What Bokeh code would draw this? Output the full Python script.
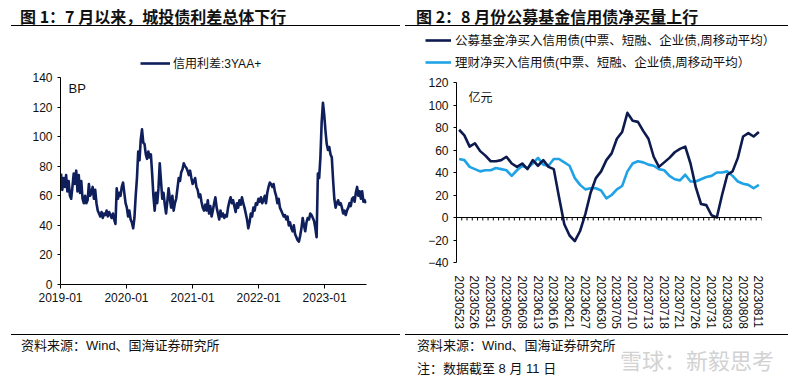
import numpy as np
import pandas as pd
from bokeh.plotting import figure
from bokeh.models import (Range1d, FixedTicker, Legend, LegendItem, Label, Span, Div,
                          DatetimeTickFormatter)
from bokeh.layouts import row, column
from bokeh.embed import file_html
from bokeh.resources import INLINE

# ---------------- data: chart 1 (weekly readings of the daily 3Y AA+ spread, bp) ----------------
spread_start = "2019-01-04"
spread_3yaa = [
    75, 64, 72, 66, 74, 63, 70, 60,
    58, 66, 75, 68, 77, 63, 74, 62, 70, 58, 55, 60,
    55, 57, 68, 60, 62, 66, 58, 64, 55, 50, 48, 46, 49,
    45, 48, 47, 50, 46, 49, 47, 45, 48, 44, 41,
    65, 58, 62, 60, 66, 69, 62, 55, 52, 46, 50, 44, 42, 38, 45,
    60, 72, 90, 84, 98, 105, 96,
    95, 88, 85, 90, 86, 88, 75, 60, 50, 62, 55, 65, 82, 70, 58, 62, 54,
    48, 56, 65, 58, 52, 60, 50, 55, 58, 65, 72, 70, 76, 78, 82, 80, 79, 77,
    74, 77, 72, 68, 70, 72, 66, 64, 59, 61, 56, 52, 50, 54, 50, 57, 48, 53, 46,
    50, 55, 59, 52, 48, 44, 50, 46, 48, 45, 47, 46, 52, 56, 59, 55, 57, 53, 49, 55, 52, 57, 54, 59, 55, 52,
    48, 44, 38, 42, 48, 46, 52, 50, 55, 54, 58, 56, 59, 55,
    57, 60, 55, 62, 66, 69, 68, 66, 68, 63, 60, 55, 58, 52, 50, 48, 46,
    47, 44, 46, 40, 42, 38, 36, 40, 34, 32, 30, 29, 33,
    38, 45, 40, 36, 42, 45, 44, 48, 47, 45, 43, 38, 32,
    75, 72, 86, 110, 123, 115, 104, 95, 91, 93, 88, 86, 71,
    58, 52, 55, 57, 54, 55, 52, 48, 50, 47, 50, 52, 55, 53, 58, 59, 56, 62, 66, 60, 63, 58, 63, 56, 57, 55,
]
spread_dates = pd.date_range(spread_start, periods=len(spread_3yaa), freq="7D")
year_ticks = ["2019-01", "2020-01", "2021-01", "2022-01", "2023-01"]
spread_yticks = [0, 20, 40, 60, 80, 100, 120, 140]

# ---------------- data: chart 2 (net purchase of credit bonds, 100m yuan, weekly MA) ----------------
trade_dates = [
    "20230523", "20230524", "20230525", "20230526", "20230529", "20230530", "20230531",
    "20230601", "20230602", "20230605", "20230606", "20230607", "20230608", "20230609",
    "20230612", "20230613", "20230614", "20230615", "20230616", "20230619", "20230620",
    "20230621", "20230625", "20230626", "20230627", "20230628", "20230629", "20230630",
    "20230703", "20230704", "20230705", "20230706", "20230707", "20230710", "20230711",
    "20230712", "20230713", "20230714", "20230717", "20230718", "20230719", "20230720",
    "20230721", "20230724", "20230725", "20230726", "20230727", "20230728", "20230731",
    "20230801", "20230802", "20230803", "20230804", "20230807", "20230808", "20230809",
    "20230810", "20230811",
]
fund_net_buy = [
    78, 73, 63, 66, 59, 55, 50, 50, 51, 54, 48, 45, 48, 43, 51, 46, 51, 45, 43, 18,
    -6, -16, -21, -12, 3, 22, 35, 41, 51, 57, 70, 76, 93, 86, 85, 77, 70, 54, 45, 49,
    53, 58, 61, 63, 48, 27, 12, 11, 2, 0, 20, 38, 41, 53, 72, 75, 72, 76,
]
wm_net_buy = [
    52, 51, 45, 43, 41, 42, 42, 44, 43, 42, 37, 42, 46, 44, 48, 53, 47, 46, 52, 52,
    49, 46, 35, 29, 25, 26, 26, 24, 17, 20, 25, 28, 41, 48, 50, 49, 47, 46, 43, 42,
    37, 34, 33, 38, 32, 32, 34, 36, 37, 40, 40, 41, 37, 32, 30, 29, 26, 29,
]
label_every = 3
flow_yticks = [-40, -20, 0, 20, 40, 60, 80, 100, 120]

# ---------------- styles ----------------
FONT = "'Liberation Sans', 'Noto Sans CJK SC'"
CJK = "'Noto Sans CJK SC'"
NAVY = "#0f1f5c"
NAVY2 = "#0c1a4e"
SKY = "#1fa3e6"
LINE_W = 2.6


def style_axes(p):
    for ax in p.yaxis:
        ax.axis_line_color = "black"
        ax.major_tick_line_color = "black"
        ax.major_tick_out = 3
        ax.major_tick_in = 0
        ax.minor_tick_line_color = None
        ax.major_label_text_font = FONT
        ax.major_label_text_font_size = "12px"
        ax.major_label_text_color = "#111111"
        ax.major_label_standoff = 5
    for ax in p.xaxis:
        ax.major_label_text_font = FONT
        ax.major_label_text_font_size = "12px"
        ax.major_label_text_color = "#111111"
        ax.minor_tick_line_color = None


def legend_style(leg, size="12px"):
    leg.border_line_color = None
    leg.background_fill_alpha = 0
    leg.padding = 2
    leg.margin = 0
    leg.label_text_font = FONT
    leg.label_text_font_size = size
    leg.label_text_color = "#111111"
    leg.glyph_height = 14
    leg.label_height = 14


# ---------------- chart 1 ----------------
y1_top = 140
p1 = figure(width=392, height=308, x_axis_type="datetime",
            x_range=Range1d(pd.Timestamp("2019-01-01"), pd.Timestamp("2023-08-21")),
            y_range=Range1d(0, 158.3),
            output_backend="svg", toolbar_location=None,
            min_border_left=52, min_border_right=34, min_border_top=24, min_border_bottom=50)
p1.frame_align = False
p1.outline_line_color = None
p1.grid.visible = False
r1 = p1.line(spread_dates, spread_3yaa, line_color=NAVY, line_width=LINE_W, line_join="round")
style_axes(p1)
p1.yaxis.ticker = FixedTicker(ticks=spread_yticks)
p1.yaxis.bounds = (0, y1_top)
p1.xaxis.ticker = FixedTicker(ticks=[pd.Timestamp(t + "-01").value / 1e6 for t in year_ticks])
p1.xaxis.formatter = DatetimeTickFormatter(days="%Y-%m", months="%Y-%m", years="%Y-%m")
p1.xaxis.axis_line_color = "black"
p1.xaxis.major_tick_line_color = "black"
p1.xaxis.major_tick_out = 4
p1.xaxis.major_tick_in = 0
p1.xaxis.major_label_standoff = 4

p1.add_layout(Label(x=8, y=196, x_units="screen", y_units="screen", text="BP",
                    text_font=FONT, text_font_size="13px", text_baseline="middle",
                    text_color="#111111"))
leg1 = Legend(items=[LegendItem(label="信用利差:3YAA+", renderers=[r1])],
              location=(80, 213), orientation="horizontal",
              glyph_width=30, label_standoff=3)
legend_style(leg1)
p1.add_layout(leg1, "center")

# ---------------- chart 2: legend strip ----------------
lf = figure(width=392, height=46, x_range=Range1d(0, 1), y_range=Range1d(0, 1),
            x_axis_location=None, y_axis_location=None, min_border=0,
            output_backend="svg", toolbar_location=None)
lf.frame_align = False
lf.outline_line_color = None
lf.grid.visible = False
k_fund = lf.line(x=[np.nan], y=[np.nan], line_color=NAVY2, line_width=LINE_W)
k_wm = lf.line(x=[np.nan], y=[np.nan], line_color=SKY, line_width=LINE_W)
leg2 = Legend(items=[LegendItem(label="公募基金净买入信用债(中票、短融、企业债,周移动平均）", renderers=[k_fund]),
                     LegendItem(label="理财净买入信用债(中票、短融、企业债,周移动平均）", renderers=[k_wm])],
              location=(25, 1), orientation="vertical", spacing=3,
              glyph_width=26, label_standoff=4)
legend_style(leg2, "12.5px")
lf.add_layout(leg2, "center")

# ---------------- chart 2 ----------------
n = len(trade_dates)
idx = np.arange(n)
p2 = figure(width=392, height=262, x_range=Range1d(-0.5, n - 0.5), y_range=Range1d(-40, 120),
            output_backend="svg", toolbar_location=None,
            min_border_left=56, min_border_right=31, min_border_top=10, min_border_bottom=72)
p2.frame_align = False
p2.outline_line_color = None
p2.grid.visible = False
p2.add_layout(Span(location=0, dimension="width", line_color="black", line_width=1))
bounds = np.arange(n + 1) - 0.5
p2.segment(x0=bounds, y0=0, x1=bounds, y1=-2.6, line_color="black", line_width=1)
r_wm = p2.line(idx, wm_net_buy, line_color=SKY, line_width=LINE_W, line_join="round")
r_fund = p2.line(idx, fund_net_buy, line_color=NAVY2, line_width=LINE_W, line_join="round")
style_axes(p2)
p2.yaxis.ticker = FixedTicker(ticks=flow_yticks)
tick_pos = list(range(0, n, label_every))
p2.xaxis.ticker = FixedTicker(ticks=tick_pos)
p2.xaxis.major_label_overrides = {i: trade_dates[i] for i in tick_pos}
p2.xaxis.major_label_orientation = "vertical"
p2.xaxis.axis_line_color = None
p2.xaxis.major_tick_line_color = None
p2.xaxis.major_label_standoff = 7

p2.add_layout(Label(x=12, y=166, x_units="screen", y_units="screen", text="亿元",
                    text_font=CJK, text_font_size="12px", text_baseline="middle",
                    text_color="#111111"))

# ---------------- titles and notes ----------------
TITLE_CSS = ("height:18px;box-sizing:border-box;border-bottom:1px solid #000;"
             "font-family:'Noto Sans CJK SC';font-weight:bold;font-size:16px;line-height:16px;"
             "color:#111;white-space:nowrap;")
NOTE_CSS = ("box-sizing:border-box;border-top:1px solid #000;height:46px;position:relative;"
            "font-family:'Liberation Sans','Noto Sans CJK SC';font-size:13px;line-height:15px;"
            "color:#111;white-space:nowrap;")

t1 = Div(text=f'<div style="{TITLE_CSS}margin-left:3px;width:389px;padding-left:9px;">图 1：7 月以来，城投债利差总体下行</div>',
         width=392, height=18, margin=0)
t2 = Div(text=f'<div style="{TITLE_CSS}margin-left:5px;width:383px;padding-left:11px;">图 2：8 月份公募基金信用债净买量上行</div>',
         width=392, height=18, margin=0)
s1 = Div(text=f'<div style="{NOTE_CSS}margin-left:3px;width:389px;padding-left:10px;padding-top:3px;">资料来源：Wind、国海证券研究所</div>',
         width=392, height=46, margin=0)
s2 = Div(text=(f'<div style="{NOTE_CSS}margin-left:5px;width:383px;padding-left:12px;padding-top:3px;">'
               '资料来源：Wind、国海证券研究所'
               '<div style="margin-top:8px;">注：数据截至 8 月 11 日</div>'
               '<div style="position:absolute;left:215px;top:15px;font-size:22px;line-height:24px;color:#d2d2d2;">雪球：新毅思考</div>'
               '</div>'),
         width=392, height=46, margin=0)

layout = row(column(t1, p1, s1, spacing=0), column(t2, lf, p2, s2, spacing=0),
             spacing=0, margin=(8, 8, 8, 8))

open("out.html", "w").write(file_html(layout, INLINE))
